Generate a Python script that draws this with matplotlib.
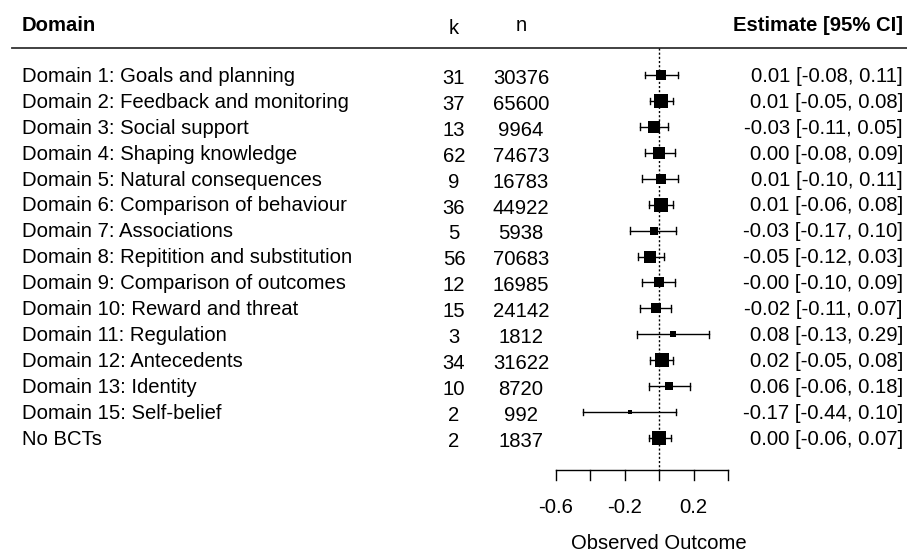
import numpy as np
import matplotlib
matplotlib.use('Agg')
import matplotlib.pyplot as plt

plt.rcParams['font.family'] = ['Liberation Sans', 'DejaVu Sans']

domains = ['Domain 1: Goals and planning', 'Domain 2: Feedback and monitoring',
           'Domain 3: Social support', 'Domain 4: Shaping knowledge',
           'Domain 5: Natural consequences', 'Domain 6: Comparison of behaviour',
           'Domain 7: Associations', 'Domain 8: Repitition and substitution',
           'Domain 9: Comparison of outcomes', 'Domain 10: Reward and threat',
           'Domain 11: Regulation', 'Domain 12: Antecedents', 'Domain 13: Identity',
           'Domain 15: Self-belief', 'No BCTs']
k = [31, 37, 13, 62, 9, 36, 5, 56, 12, 15, 3, 34, 10, 2, 2]
n = [30376, 65600, 9964, 74673, 16783, 44922, 5938, 70683, 16985, 24142, 1812, 31622, 8720, 992, 1837]
est = [0.01, 0.01, -0.03, 0.00, 0.01, 0.01, -0.03, -0.05, -0.0, -0.02, 0.08, 0.02, 0.06, -0.17, 0.00]
lo = [-0.08, -0.05, -0.11, -0.08, -0.10, -0.06, -0.17, -0.12, -0.10, -0.11, -0.13, -0.05, -0.06, -0.44, -0.06]
hi = [0.11, 0.08, 0.05, 0.09, 0.11, 0.08, 0.10, 0.03, 0.09, 0.07, 0.29, 0.08, 0.18, 0.10, 0.07]
ticks = [-0.6, -0.4, -0.2, 0.0, 0.2, 0.4]
tick_labels = ['-0.6', '', '-0.2', '', '0.2', '']

est = np.array(est)
lo = np.array(lo)
hi = np.array(hi)
rows = np.arange(1, len(domains) + 1)

# box size ~ sqrt(inverse variance), like metafor
se = (hi - lo) / 3.92
sw = np.sqrt(1 / se**2)
side_px = 5 + (sw - sw.min()) / (sw.max() - sw.min()) * 9

fig = plt.figure(figsize=(9.07, 5.56), dpi=100)
ax = fig.add_axes([0, 0, 1, 1])
ax.set_xlim(-659 / 172.5, (907 - 659) / 172.5)
ax.set_ylim(1 + 481 / 25.93, 1 - 75 / 25.93)
ax.axis('off')

fs = 14.6
X_LAB = (22 - 659) / 172.5
X_K = (454 - 659) / 172.5
X_N = (521 - 659) / 172.5
X_EST = (903 - 659) / 172.5

bl = 6.8 / 25.93  # baseline offset below row centre
y_head = 1 - 51 / 25.93
y_line = 1 - 27 / 25.93
y_axis = 1 + 395 / 25.93

ax.text(X_LAB, y_head + bl, 'Domain', fontsize=fs, fontweight='bold', ha='left', va='baseline')
ax.text(X_K, y_head + bl + 0.12, 'k', fontsize=fs, ha='center', va='baseline')
ax.text(X_N, y_head + bl, 'n', fontsize=fs, ha='center', va='baseline')
ax.text(X_EST, y_head + bl, 'Estimate [95% CI]', fontsize=fs, fontweight='bold', ha='right', va='baseline')
ax.plot([(12 - 659) / 172.5, X_EST + 0.1], [y_line, y_line], color='#333333', lw=1.3)

ax.plot([0, 0], [y_line, y_axis], color='black', lw=1, linestyle=(0, (1.5, 1.5)))

cap = 0.13
for r, d, kk, nn, e, l, h, s in zip(rows, domains, k, n, est, lo, hi, side_px):
    ax.text(X_LAB, r + bl, d, fontsize=fs, ha='left', va='baseline')
    ax.text(X_K, r + bl + 0.08, str(kk), fontsize=fs, ha='center', va='baseline')
    ax.text(X_N, r + bl + 0.08, str(nn), fontsize=fs, ha='center', va='baseline')
    ax.text(X_EST, r + bl, f'{e:.2f} [{l:.2f}, {h:.2f}]', fontsize=fs, ha='right', va='baseline')
    ax.plot([l, h], [r, r], color='black', lw=1)
    ax.plot([l, l], [r - cap, r + cap], color='black', lw=1)
    ax.plot([h, h], [r - cap, r + cap], color='black', lw=1)
    ax.plot(e, r, marker='s', color='black', markersize=s * 0.72, markeredgewidth=0)

# x axis
ax.plot([ticks[0], ticks[-1]], [y_axis, y_axis], color='black', lw=1)
for t, tl in zip(ticks, tick_labels):
    ax.plot([t, t], [y_axis, y_axis + 0.38], color='black', lw=1)
    ax.text(t, y_axis + 1.45, tl, fontsize=fs, ha='center', va='center')
ax.text(0, y_axis + 2.85, 'Observed Outcome', fontsize=fs, ha='center', va='center')

fig.savefig('out.png', dpi=100)
